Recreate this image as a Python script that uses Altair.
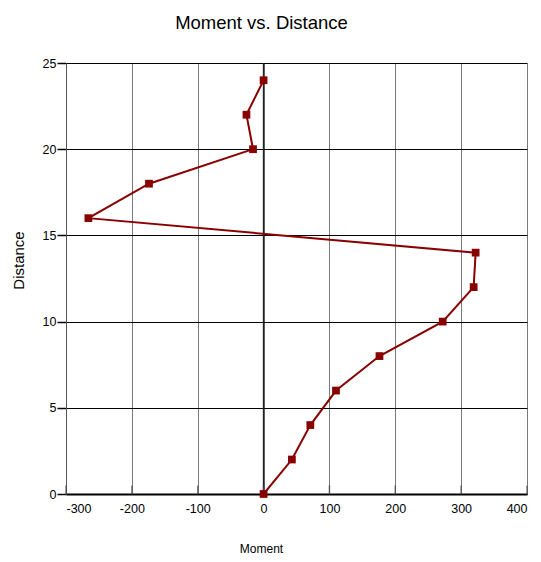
import altair as alt
import pandas as pd

moment = [0, 43, 71, 110, 176, 272, 319, 322, -266, -174, -16, -26, 0]
distance = [0, 2, 4, 6, 8, 10, 12, 14, 16, 18, 20, 22, 24]
x_ticks = [-300, -200, -100, 0, 100, 200, 300, 400]
y_ticks = [0, 5, 10, 15, 20, 25]

df = pd.DataFrame({"Moment": moment, "Distance": distance, "order": list(range(len(moment)))})
tick_df = pd.DataFrame({"t": x_ticks, "b": [0] * len(x_ticks)})

FONT = "Liberation Sans, Arial, sans-serif"
RED = "#880000"

x_enc = alt.X("Moment:Q", scale=alt.Scale(domain=[-300, 400], nice=False),
              axis=alt.Axis(values=x_ticks, title="Moment", grid=True, gridColor="#7a7a7a",
                            gridOpacity=1, gridWidth=1, domainColor="black", domainWidth=2,
                            ticks=False, labelPadding=8, labelExpr="datum.value + ''",
                            labelFontSize=12.5, labelColor="black", labelFont=FONT,
                            titleFont=FONT, titleFontSize=12, titleFontWeight="normal",
                            titleColor="black", titleX=195, titleY=49))
y_enc = alt.Y("Distance:Q", scale=alt.Scale(domain=[0, 25], nice=False),
              axis=alt.Axis(values=y_ticks, title="Distance", grid=True, gridColor="black",
                            gridOpacity=1, gridWidth=1, domainColor="#555", domainWidth=1,
                            tickColor="black", tickSize=9, tickWidth=1.5, labelPadding=1,
                            labelFontSize=12.5, labelColor="black", labelFont=FONT,
                            titleFont=FONT, titleFontSize=15, titleFontWeight="normal",
                            titleColor="black", titleX=-48, titleY=197, titleAngle=-90,
                            titleBaseline="middle", titleAlign="center"))

line = alt.Chart(df).mark_line(color=RED, strokeWidth=2).encode(
    x=x_enc, y=y_enc, order="order:Q")
pts = alt.Chart(df).mark_square(color=RED, opacity=1, size=60).encode(
    x="Moment:Q", y="Distance:Q")
zero = alt.Chart(pd.DataFrame({"z": [0]})).mark_rule(color="#222", strokeWidth=1.5).encode(
    x="z:Q")
ticks = alt.Chart(tick_df).mark_tick(color="#444", orient="vertical", size=9,
                                     thickness=1.5, yOffset=-4).encode(
    x="t:Q", y="b:Q")

chart = alt.layer(zero, ticks, line, pts).properties(
    width=461, height=431,
    title=alt.TitleParams("Moment vs. Distance", font=FONT, fontSize=18.5, fontWeight="normal",
                          color="black", anchor="middle", dx=-35, offset=25),
    autosize=alt.AutoSizeParams(type="none"),
    padding={"left": 58, "top": 55, "right": 6, "bottom": 68},
).configure_view(stroke=None)

chart.save("out.html", embed_options={"renderer": "svg", "actions": False})
